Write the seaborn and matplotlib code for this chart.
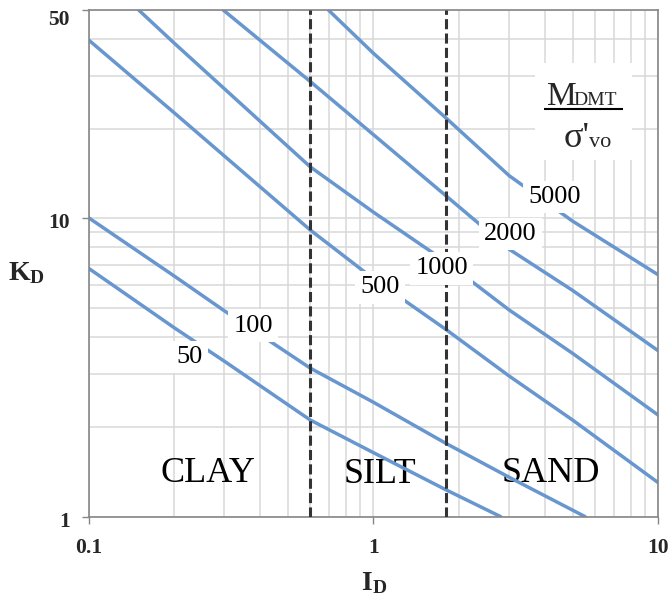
import numpy as np
import pandas as pd
import matplotlib
matplotlib.use("Agg")
import matplotlib.pyplot as plt
import matplotlib.transforms as mtransforms
from matplotlib.ticker import FixedLocator, NullFormatter
import seaborn as sns

# ---------------- data ----------------
ratio_names = ["50", "100", "500", "1000", "2000", "5000"]

id_50 = [0.1, 0.2, 0.3, 0.6, 1.0, 1.8, 2.8]
kd_50 = [6.81, 4.3, 3.32, 2.11, 1.64, 1.23, 1.0]

id_100 = [0.1, 0.2, 0.3, 0.6, 1.0, 1.8, 3.0, 5.54]
kd_100 = [10.06, 6.41, 4.9, 3.15, 2.42, 1.76, 1.355, 1.0]

id_500 = [0.1, 0.2, 0.6, 1.0, 1.8, 3.0, 5.0, 10.0]
kd_500 = [39.7, 22.6, 9.15, 6.28, 4.24, 2.96, 2.11, 1.30]

id_1000 = [0.150, 0.2, 0.6, 1.0, 1.8, 3.0, 5.0, 10.0]
kd_1000 = [50.0, 38.7, 14.9, 10.5, 7.15, 4.93, 3.53, 2.19]

id_2000 = [0.297, 0.6, 1.0, 1.8, 3.0, 5.0, 10.0]
kd_2000 = [50.0, 28.8, 19.1, 11.9, 7.88, 5.74, 3.6]

id_5000 = [0.695, 1.0, 1.8, 3.0, 5.0, 10.0]
kd_5000 = [50.0, 35.8, 21.7, 13.9, 9.8, 6.47]

# curve label positions (centre x, baseline y)
label_id = [0.2263, 0.378, 1.058, 1.734, 3.02, 4.32]
label_kd = [3.28, 4.17, 5.61, 6.50, 8.47, 11.25]

# soil zones
zone_bounds = [0.6, 1.8]
zone_names = ["CLAY", "SILT", "SAND"]
zone_id = [0.263, 1.052, 4.20]
zone_kd = [1.31, 1.294, 1.31]

x_ticks = [0.1, 1, 10]
x_ticklabels = ["0.1", "1", "10"]
y_ticks = [1, 10, 50]
y_ticklabels = ["1", "10", "50"]
x_minor = [0.2, 0.3, 0.4, 0.5, 0.6, 0.7, 0.8, 0.9, 2, 3, 4, 5, 6, 7, 8, 9]
y_minor = [2, 3, 4, 5, 6, 7, 8, 9, 20, 30, 40]

# ---------------- build table ----------------
ids = [id_50, id_100, id_500, id_1000, id_2000, id_5000]
kds = [kd_50, kd_100, kd_500, kd_1000, kd_2000, kd_5000]
rows = []
for name, xs, ys in zip(ratio_names, ids, kds):
    for i, (a, b) in enumerate(zip(xs, ys)):
        rows.append({"ratio": name, "order": i, "ID": a, "KD": b})
df = pd.DataFrame(rows)

# ---------------- style ----------------
sns.set_style("white")
serif = "Liberation Serif"
plt.rcParams["font.family"] = [serif, "DejaVu Serif"]
plt.rcParams["mathtext.fontset"] = "custom"
plt.rcParams["mathtext.rm"] = serif
plt.rcParams["mathtext.bf"] = serif + ":bold"
plt.rcParams["mathtext.it"] = serif + ":italic"

line_color = "#6897cf"
grid_color = "#d9d9d9"
spine_color = "#868686"

fig = plt.figure(figsize=(6.7, 6.02), dpi=100)
ax = fig.add_axes([0.1321, 0.1417, 0.8504, 0.8417])
ax.set_xscale("log")
ax.set_yscale("log")

sns.lineplot(data=df, x="ID", y="KD", units="ratio", estimator=None, sort=False,
             color=line_color, lw=2.5, ax=ax, zorder=2.5, legend=False)

ax.set_xlim(0.1, 10)
ax.set_ylim(1, 50)

ax.xaxis.set_major_locator(FixedLocator(x_ticks))
ax.xaxis.set_minor_locator(FixedLocator(x_minor))
ax.xaxis.set_minor_formatter(NullFormatter())
ax.yaxis.set_major_locator(FixedLocator(y_ticks))
ax.yaxis.set_minor_locator(FixedLocator(y_minor))
ax.yaxis.set_minor_formatter(NullFormatter())

ax.grid(which="both", color=grid_color, lw=1.1)
ax.set_axisbelow(True)
for s in ax.spines.values():
    s.set_color(spine_color)
    s.set_linewidth(1.2)

ax.tick_params(which="major", direction="out", length=4.7, width=1.0, color=spine_color,
               left=True, bottom=True, labelleft=False, labelbottom=False)
ax.tick_params(which="minor", length=0)

# tick labels (bold serif), placed by baseline
dpi_tr = fig.dpi_scale_trans
xblend = mtransforms.blended_transform_factory(ax.transData, ax.transAxes)
yblend = mtransforms.blended_transform_factory(ax.transAxes, ax.transData)
for v, s in zip(x_ticks, x_ticklabels):
    ax.text(v, 0, s, transform=xblend + mtransforms.ScaledTranslation(0, -0.366, dpi_tr),
            ha="center", va="baseline", fontsize=15.5, fontweight="bold", family=serif,
            clip_on=False)
for v, s, dy in zip(y_ticks, y_ticklabels, [0.103, 0.10, 0.15]):
    ax.text(0, v, s, transform=yblend + mtransforms.ScaledTranslation(-0.185, -dy, dpi_tr),
            ha="right", va="baseline", fontsize=15.5, fontweight="bold", family=serif,
            clip_on=False)

ax.set_xlabel("")
ax.set_ylabel("")
ax.set_ylabel(r"$\mathbf{K}_{\mathbf{D}}$", rotation=0, fontsize=20, ha="left", va="baseline")
ax.yaxis.set_label_coords(-0.141, 0.467)
ax.set_xlabel(r"$\mathbf{I}_{\mathbf{D}}$", fontsize=20, ha="center", va="baseline")
ax.xaxis.set_label_coords(0.501, -0.1447)

# zone boundaries
for b in zone_bounds:
    ax.axvline(b, color="#333333", lw=2.2, ls=(0, (3.3, 1.4)), zorder=3)

# zone names
for name, x, y in zip(zone_names, zone_id, zone_kd):
    ax.text(x, y, name, ha="center", va="baseline", fontsize=26, family=serif,
            color="black", zorder=1.5)

# curve labels
for name, x, y in zip(ratio_names, label_id, label_kd):
    ax.text(x, y, name, ha="center", va="baseline", fontsize=19, family=serif,
            color="black", zorder=4,
            bbox=dict(boxstyle="square,pad=0.2", fc="white", ec="none"))

# M_DMT / sigma'_vo legend
ax.add_patch(plt.Rectangle((0.784, 0.704), 0.17, 0.191, transform=ax.transAxes,
                           fc="white", ec="none", zorder=3.5))
ax.text(0.8046, 0.8125, "M", transform=ax.transAxes, fontsize=24, family=serif,
        ha="left", va="baseline", zorder=4)
ax.text(0.8513, 0.8125, "DMT", transform=ax.transAxes, fontsize=14, family=serif,
        ha="left", va="baseline", zorder=4)
ax.plot([0.7998, 0.938], [0.804, 0.804], transform=ax.transAxes, color="black",
        lw=1.5, zorder=4, solid_capstyle="butt")
ax.text(0.8337, 0.7302, "\u03c3'", transform=ax.transAxes, fontsize=26, family=serif,
        ha="left", va="baseline", zorder=4)
ax.text(0.8776, 0.7302, "vo", transform=ax.transAxes, fontsize=16, family=serif,
        ha="left", va="baseline", zorder=4)

fig.savefig("out.png", dpi=100)
